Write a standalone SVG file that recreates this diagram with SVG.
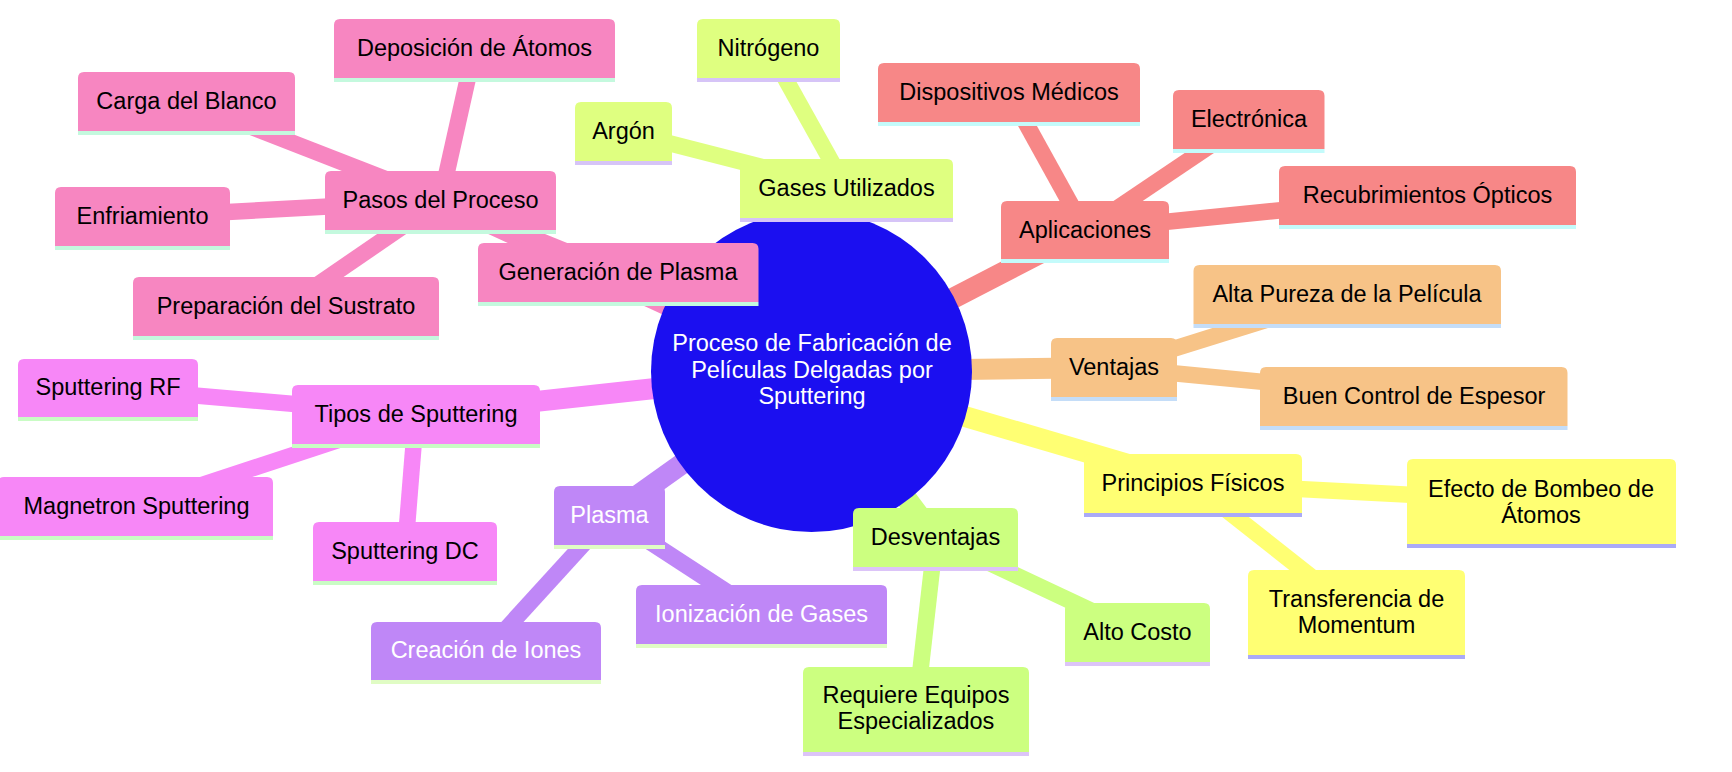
<svg xmlns="http://www.w3.org/2000/svg" width="1732" height="772" viewBox="0 0 1732 772">
<style>
text{font-family:"Liberation Sans",Arial,sans-serif;font-size:23.5px;text-anchor:middle;fill:#000}
.w text{fill:#fff}
.e0{stroke-width:21;stroke-linecap:butt;fill:none}
.e1{stroke-width:16.5;stroke-linecap:butt;fill:none}
.cp{stroke:#F786C1}.cg{stroke:#DFFF80}.ca{stroke:#F78787}.cv{stroke:#F7C387}
.cf{stroke:#FFFF73}.cd{stroke:#CCFF80}.cl{stroke:#BF87F7}.ct{stroke:#F787F7}
.p .b{fill:#F786C1}.p .l{fill:#C4F9DE}
.g .b{fill:#DFFF80}.g .l{fill:#D6C4F7}
.a .b{fill:#F78787}.a .l{fill:#C4FBFB}
.v .b{fill:#F7C387}.v .l{fill:#C4DDF8}
.f .b{fill:#FFFF73}.f .l{fill:#AAAAF7}
.d .b{fill:#CCFF80}.d .l{fill:#DCC4F8}
.m .b{fill:#BF87F7}.m .l{fill:#E0FCC4}
.t .b{fill:#F787F7}.t .l{fill:#C9FCC4}
</style>
<g id="connectors">
<line class="e0 cp" x1="811.5" y1="371.5" x2="440.5" y2="200.5"/>
<line class="e0 cg" x1="811.5" y1="371.5" x2="846.5" y2="188.5"/>
<line class="e0 ca" x1="811.5" y1="371.5" x2="1085" y2="230"/>
<line class="e0 cv" x1="811.5" y1="371.5" x2="1114" y2="367.5"/>
<line class="e0 cf" x1="811.5" y1="371.5" x2="1193" y2="483.5"/>
<line class="e0 cd" x1="811.5" y1="371.5" x2="935.5" y2="537.5"/>
<line class="e0 cl" x1="811.5" y1="371.5" x2="609.5" y2="515.5"/>
<line class="e0 ct" x1="811.5" y1="371.5" x2="416" y2="414.5"/>
<line class="e1 cp" x1="440.5" y1="200.5" x2="474.5" y2="48.5"/>
<line class="e1 cp" x1="440.5" y1="200.5" x2="186.5" y2="101.5"/>
<line class="e1 cp" x1="440.5" y1="200.5" x2="142.5" y2="216.5"/>
<line class="e1 cp" x1="440.5" y1="200.5" x2="286" y2="306.5"/>
<line class="e1 cp" x1="440.5" y1="200.5" x2="618" y2="272.5"/>
<line class="e1 cg" x1="846.5" y1="188.5" x2="768.5" y2="48.5"/>
<line class="e1 cg" x1="846.5" y1="188.5" x2="623.5" y2="131.5"/>
<line class="e1 ca" x1="1085" y1="230" x2="1009" y2="92.5"/>
<line class="e1 ca" x1="1085" y1="230" x2="1249" y2="119.5"/>
<line class="e1 ca" x1="1085" y1="230" x2="1427.5" y2="195.5"/>
<line class="e1 cv" x1="1114" y1="367.5" x2="1347" y2="294.5"/>
<line class="e1 cv" x1="1114" y1="367.5" x2="1414" y2="396.5"/>
<line class="e1 cf" x1="1193" y1="483.5" x2="1541" y2="501.5"/>
<line class="e1 cf" x1="1193" y1="483.5" x2="1356.5" y2="612.5"/>
<line class="e1 cd" x1="935.5" y1="537.5" x2="1137.5" y2="632.5"/>
<line class="e1 cd" x1="935.5" y1="537.5" x2="916" y2="709.5"/>
<line class="e1 cl" x1="609.5" y1="515.5" x2="761.5" y2="614.5"/>
<line class="e1 cl" x1="609.5" y1="515.5" x2="486" y2="651"/>
<line class="e1 ct" x1="416" y1="414.5" x2="108" y2="388"/>
<line class="e1 ct" x1="416" y1="414.5" x2="136.5" y2="506.5"/>
<line class="e1 ct" x1="416" y1="414.5" x2="405" y2="551.5"/>
</g>
<g id="root" class="w">
<circle cx="811.5" cy="371.5" r="160.5" fill="#1B0FF0"/>
<text x="812" y="351">Proceso de Fabricación de</text>
<text x="812" y="377.5">Películas Delgadas por</text>
<text x="812" y="404">Sputtering</text>
</g>
<g id="pasos" class="p"><path class="b" d="M325 230V177Q325 171 331 171H550Q556 171 556 177V230Z"/><rect class="l" x="325" y="230" width="231" height="4"/><text x="440.5" y="208">Pasos del Proceso</text></g>
<g id="deposicion" class="p"><path class="b" d="M334 78V25Q334 19 340 19H609Q615 19 615 25V78Z"/><rect class="l" x="334" y="78" width="281" height="4"/><text x="474.5" y="56">Deposición de Átomos</text></g>
<g id="carga" class="p"><path class="b" d="M78 131V78Q78 72 84 72H289Q295 72 295 78V131Z"/><rect class="l" x="78" y="131" width="217" height="4"/><text x="186.5" y="109">Carga del Blanco</text></g>
<g id="enfriamiento" class="p"><path class="b" d="M55 246V193Q55 187 61 187H224Q230 187 230 193V246Z"/><rect class="l" x="55" y="246" width="175" height="4"/><text x="142.5" y="224">Enfriamiento</text></g>
<g id="preparacion" class="p"><path class="b" d="M133 336V283Q133 277 139 277H433Q439 277 439 283V336Z"/><rect class="l" x="133" y="336" width="306" height="4"/><text x="286" y="314">Preparación del Sustrato</text></g>
<g id="generacion" class="p"><path class="b" d="M478 302V249Q478 243 484 243H752.5Q758.5 243 758.5 249V302Z"/><rect class="l" x="478" y="302" width="280.5" height="4"/><text x="618" y="280">Generación de Plasma</text></g>
<g id="gases" class="g"><path class="b" d="M740 218V165Q740 159 746 159H947Q953 159 953 165V218Z"/><rect class="l" x="740" y="218" width="213" height="4"/><text x="846.5" y="196">Gases Utilizados</text></g>
<g id="nitrogeno" class="g"><path class="b" d="M697 78V25Q697 19 703 19H834Q840 19 840 25V78Z"/><rect class="l" x="697" y="78" width="143" height="4"/><text x="768.5" y="56">Nitrógeno</text></g>
<g id="argon" class="g"><path class="b" d="M575 161V108Q575 102 581 102H666Q672 102 672 108V161Z"/><rect class="l" x="575" y="161" width="97" height="4"/><text x="623.5" y="139">Argón</text></g>
<g id="aplicaciones" class="a"><path class="b" d="M1001 259V207Q1001 201 1007 201H1163Q1169 201 1169 207V259Z"/><rect class="l" x="1001" y="259" width="168" height="4"/><text x="1085" y="237.5">Aplicaciones</text></g>
<g id="dispositivos" class="a"><path class="b" d="M878 122V69Q878 63 884 63H1134Q1140 63 1140 69V122Z"/><rect class="l" x="878" y="122" width="262" height="4"/><text x="1009" y="100">Dispositivos Médicos</text></g>
<g id="electronica" class="a"><path class="b" d="M1173 149V96Q1173 90 1179 90H1318.5Q1324.5 90 1324.5 96V149Z"/><rect class="l" x="1173" y="149" width="151.5" height="4"/><text x="1249" y="127">Electrónica</text></g>
<g id="recubrimientos" class="a"><path class="b" d="M1279 225V172Q1279 166 1285 166H1570Q1576 166 1576 172V225Z"/><rect class="l" x="1279" y="225" width="297" height="4"/><text x="1427.5" y="203">Recubrimientos Ópticos</text></g>
<g id="ventajas" class="v"><path class="b" d="M1051 397V344Q1051 338 1057 338H1171Q1177 338 1177 344V397Z"/><rect class="l" x="1051" y="397" width="126" height="4"/><text x="1114" y="375">Ventajas</text></g>
<g id="pureza" class="v"><path class="b" d="M1193.5 324V271Q1193.5 265 1199.5 265H1495Q1501 265 1501 271V324Z"/><rect class="l" x="1193.5" y="324" width="307.5" height="4"/><text x="1347" y="302">Alta Pureza de la Película</text></g>
<g id="control" class="v"><path class="b" d="M1260 426V373Q1260 367 1266 367H1561.5Q1567.5 367 1567.5 373V426Z"/><rect class="l" x="1260" y="426" width="307.5" height="4"/><text x="1414" y="404">Buen Control de Espesor</text></g>
<g id="principios" class="f"><path class="b" d="M1084 513V460Q1084 454 1090 454H1296Q1302 454 1302 460V513Z"/><rect class="l" x="1084" y="513" width="218" height="4"/><text x="1193" y="491">Principios Físicos</text></g>
<g id="efecto" class="f"><path class="b" d="M1407 544V465Q1407 459 1413 459H1670Q1676 459 1676 465V544Z"/><rect class="l" x="1407" y="544" width="269" height="4"/><text x="1541" y="496.5">Efecto de Bombeo de</text><text x="1541" y="522.5">Átomos</text></g>
<g id="transferencia" class="f"><path class="b" d="M1248 655V576Q1248 570 1254 570H1459Q1465 570 1465 576V655Z"/><rect class="l" x="1248" y="655" width="217" height="4"/><text x="1356.5" y="607">Transferencia de</text><text x="1356.5" y="633">Momentum</text></g>
<g id="desventajas" class="d"><path class="b" d="M853 567V514Q853 508 859 508H1012Q1018 508 1018 514V567Z"/><rect class="l" x="853" y="567" width="165" height="4"/><text x="935.5" y="545">Desventajas</text></g>
<g id="costo" class="d"><path class="b" d="M1065 662V609Q1065 603 1071 603H1204Q1210 603 1210 609V662Z"/><rect class="l" x="1065" y="662" width="145" height="4"/><text x="1137.5" y="640">Alto Costo</text></g>
<g id="requiere" class="d"><path class="b" d="M803 752V673Q803 667 809 667H1023Q1029 667 1029 673V752Z"/><rect class="l" x="803" y="752" width="226" height="4"/><text x="916" y="703">Requiere Equipos</text><text x="916" y="729">Especializados</text></g>
<g id="plasma" class="m w"><path class="b" d="M554 545V492Q554 486 560 486H659Q665 486 665 492V545Z"/><rect class="l" x="554" y="545" width="111" height="4"/><text x="609.5" y="523">Plasma</text></g>
<g id="ionizacion" class="m w"><path class="b" d="M636 644V591Q636 585 642 585H881Q887 585 887 591V644Z"/><rect class="l" x="636" y="644" width="251" height="4"/><text x="761.5" y="622">Ionización de Gases</text></g>
<g id="creacion" class="m w"><path class="b" d="M371 680V628Q371 622 377 622H595Q601 622 601 628V680Z"/><rect class="l" x="371" y="680" width="230" height="4"/><text x="486" y="658">Creación de Iones</text></g>
<g id="tipos" class="t"><path class="b" d="M292 444V391Q292 385 298 385H534Q540 385 540 391V444Z"/><rect class="l" x="292" y="444" width="248" height="4"/><text x="416" y="422">Tipos de Sputtering</text></g>
<g id="rf" class="t"><path class="b" d="M18 417V365Q18 359 24 359H192Q198 359 198 365V417Z"/><rect class="l" x="18" y="417" width="180" height="4"/><text x="108" y="395">Sputtering RF</text></g>
<g id="magnetron" class="t"><path class="b" d="M-2 536V483Q-2 477 4 477H267Q273 477 273 483V536Z"/><rect class="l" x="-2" y="536" width="275" height="4"/><text x="136.5" y="514">Magnetron Sputtering</text></g>
<g id="dc" class="t"><path class="b" d="M313 581V528Q313 522 319 522H491Q497 522 497 528V581Z"/><rect class="l" x="313" y="581" width="184" height="4"/><text x="405" y="559">Sputtering DC</text></g>
</svg>
